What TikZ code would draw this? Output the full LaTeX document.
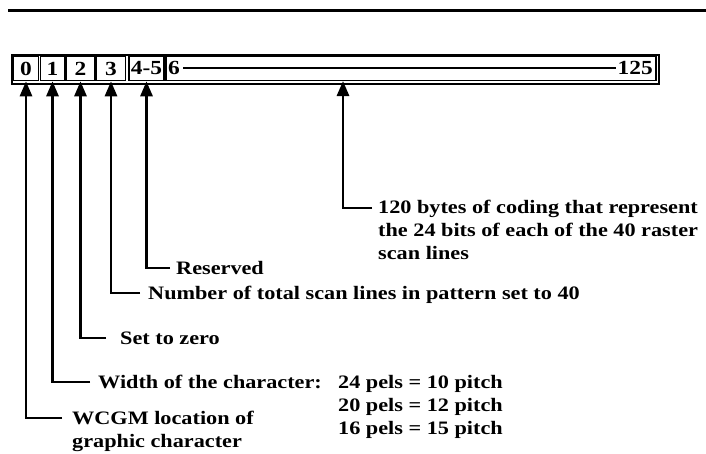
\documentclass[tikz,border=0pt]{standalone}
\usepackage{fontspec}
\setmainfont{Liberation Serif}[FakeStretch=1.17]
\usetikzlibrary{arrows.meta}
\begin{document}
\begin{tikzpicture}[x=1pt,y=-1pt,
  cellfont/.style={font=\fontsize{20}{22}\selectfont\bfseries},
  cellbox/.style={draw,line width=1.6pt,minimum height=24pt,inner sep=0pt,cellfont},
  lab/.style={anchor=base west,inner sep=0pt,font=\fontsize{19}{23}\selectfont\bfseries},
  conn/.style={line width=2.8pt,-{Triangle[length=15pt,width=12pt]}},
  rule/.style={line width=3pt}]
\useasboundingbox (0,0) rectangle (706,453);
\coordinate (r1) at (8,10);
\coordinate (r2) at (706,10);
\draw[rule] (r1) -- (r2);
% outer frame
\node[draw,line width=2pt,minimum width=647pt,minimum height=29pt,inner sep=0pt,anchor=north west] (frame) at (11,54) {};
% cells
\node[cellbox,minimum width=25pt] (c0) at (26,68.5) {0};
\node[cellbox,minimum width=24pt] (c1) at (52.5,68.5) {1};
\node[cellbox,minimum width=29pt] (c2) at (80.5,68.5) {2};
\node[cellbox,minimum width=29pt] (c3) at (111,68.5) {3};
\node[cellbox,minimum width=35pt] (c4) at (146.5,68.5) {4-5};
\node[cellbox,minimum width=490pt] (c6) at (411,68.5) {};
\node[anchor=west,inner sep=0pt,cellfont] (s6) at (168,68) {6};
\node[anchor=east,inner sep=0pt,cellfont] (e6) at (653,68) {125};
\draw[line width=1.4pt] ([xshift=3pt]s6.east) -- ([xshift=-2pt]e6.west);
\coordinate (t6) at (343,81);
% labels
\node[lab] (lb6) at (378,213) {120 bytes of coding that represent};
\node[lab] (lb6b) at (378,236) {the 24 bits of each of the 40 raster};
\node[lab] (lb6c) at (378,259) {scan lines};
\node[lab] (lb4) at (176,274) {Reserved};
\node[lab] (lb3) at (148,299) {Number of total scan lines in pattern set to 40};
\node[lab] (lb2) at (120,344) {Set to zero};
\node[lab] (lb1) at (98,388) {Width of the character:};
\node[lab] (p1) at (338,388) {24 pels = 10 pitch};
\node[lab] (p2) at (338,411) {20 pels = 12 pitch};
\node[lab] (p3) at (338,434) {16 pels = 15 pitch};
\node[lab] (lb0) at (72,424) {WCGM location of};
\node[lab] (lb0b) at (72,447) {graphic character};
% connectors
\coordinate (k6) at (372,208);
\coordinate (k4) at (170,268);
\coordinate (k3) at (140,293);
\coordinate (k2) at (106,338);
\coordinate (k1) at (90,382);
\coordinate (k0) at (62,418);
\draw[conn] (k6) -| (t6);
\draw[conn] (k4) -| (c4.south);
\draw[conn] (k3) -| (c3.south);
\draw[conn] (k2) -| (c2.south);
\draw[conn] (k1) -| (c1.south);
\draw[conn] (k0) -| (c0.south);
\end{tikzpicture}
\end{document}
